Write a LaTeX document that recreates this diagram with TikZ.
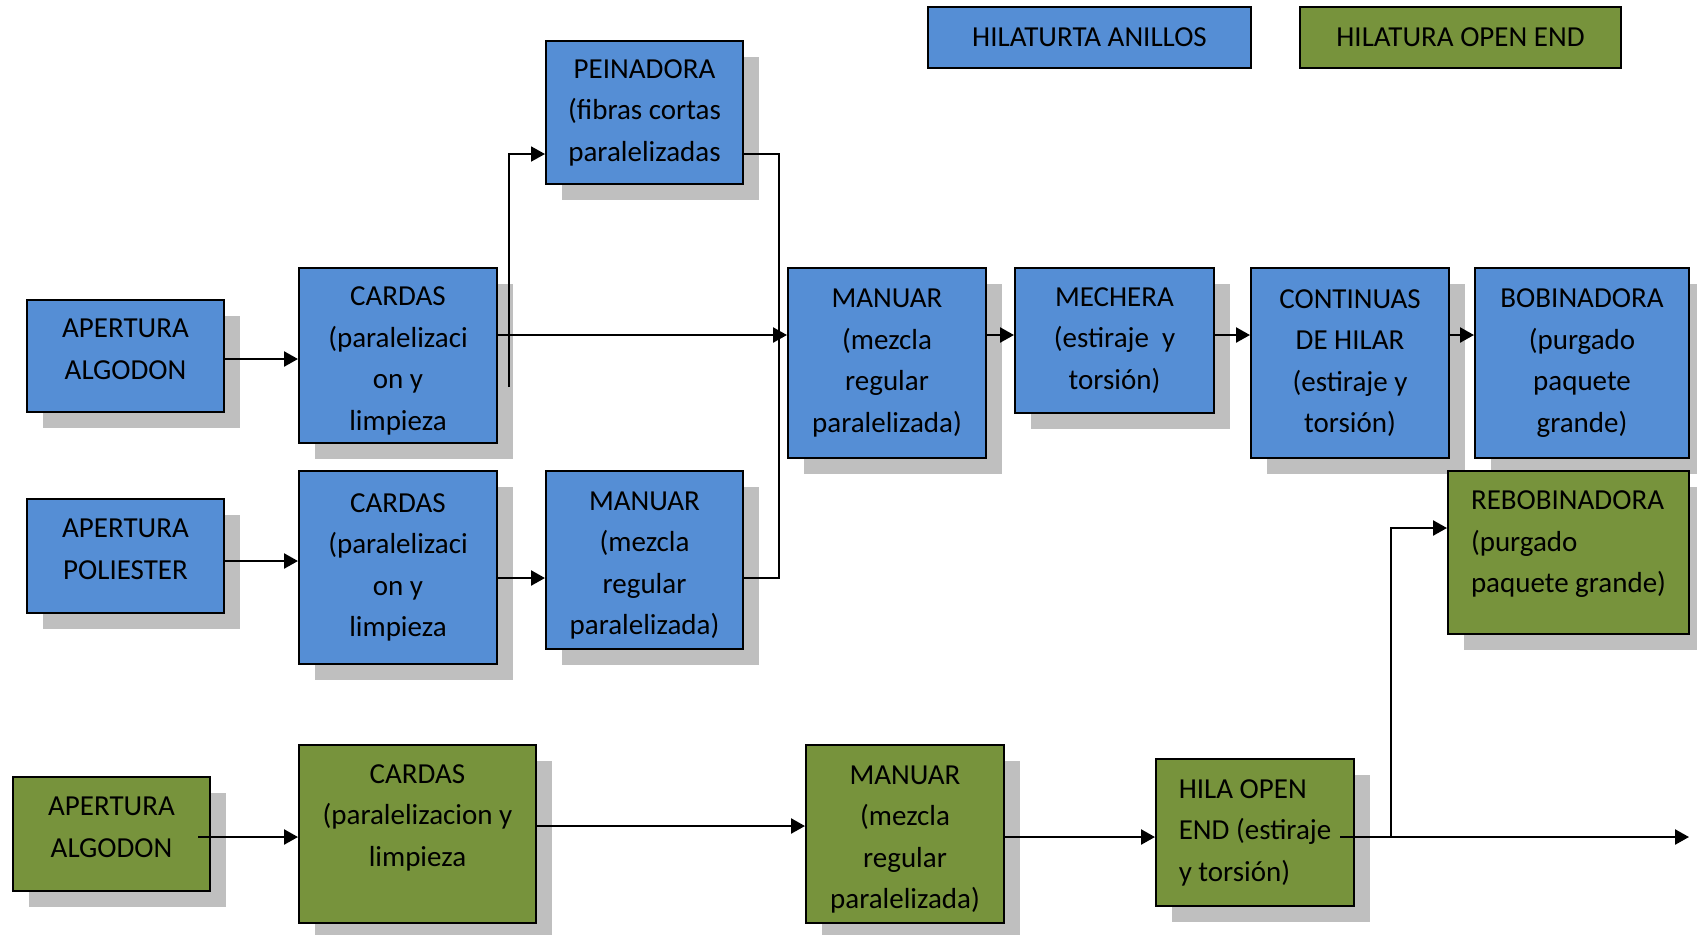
\documentclass[tikz,border=0pt]{standalone}
\usepackage{fontspec}
\setmainfont{Carlito}
\usetikzlibrary{arrows.meta,shadows,calc}
\definecolor{bfill}{RGB}{85,142,213}
\definecolor{gfill}{RGB}{119,147,60}
\definecolor{shgray}{RGB}{191,191,191}
\begin{document}
\begin{tikzpicture}[x=0.5pt,y=-0.5pt,
  every node/.style={font=\fontsize{14.5}{20.75}\selectfont},
  sz/.style 2 args={minimum width=#1*0.5pt, minimum height=#2*0.5pt},
  boxbase/.style={draw=black,line width=1pt,inner sep=0pt,align=center},
  shad/.style={general shadow={fill=shgray,shadow xshift=8pt,shadow yshift=-8pt}},
  bbox/.style={boxbase,shad,fill=bfill},
  gbox/.style={boxbase,shad,fill=gfill},
  arr/.style={line width=1.2pt,-{Triangle[length=7pt,width=7.5pt]}},
  ln/.style={line width=0.9pt},
  lnarr/.style={line width=0.9pt,-{Triangle[length=7pt,width=7.5pt]}}]
\useasboundingbox (0,0) rectangle (1697,934);

% legend
\node[boxbase,fill=bfill,sz={323}{61}] (lg1) at (1089.5,37.5) {HILATURTA ANILLOS};
\node[boxbase,fill=gfill,sz={321}{61}] (lg2) at (1460.5,37.5) {HILATURA OPEN END};

% blue
\node[bbox,sz={197}{143}] (pe) at (644.5,112.5) {PEINADORA\\(fibras cortas\\paralelizadas};
\node[bbox,sz={197}{112}] (aa1) at (125.5,356) {APERTURA\\ALGODON\\[-14pt]\mbox{}};
\node[bbox,sz={198}{175}] (ca1) at (398,355.5) {\mbox{}\\[-5.8pt]CARDAS\\(paralelizaci\\on y\\limpieza};
\node[bbox,sz={198}{190}] (ma1) at (887,363) {MANUAR\\(mezcla\\regular\\paralelizada)};
\node[bbox,sz={199}{145}] (me) at (1114.5,340.5) {MECHERA\\(estiraje\ \ y\\torsión)};
\node[bbox,sz={198}{190}] (co) at (1350,363) {CONTINUAS\\DE HILAR\\(estiraje y\\torsión)};
\node[bbox,sz={214}{190}] (bo) at (1582,363) {BOBINADORA\\(purgado\\paquete\\grande)};
\node[bbox,sz={197}{114}] (ap) at (125.5,556) {APERTURA\\POLIESTER\\[-14pt]\mbox{}};
\node[bbox,sz={198}{193}] (ca2) at (398,567.5) {CARDAS\\(paralelizaci\\on y\\limpieza};
\node[bbox,sz={197}{178}] (ma2) at (644.5,560) {\mbox{}\\[-5.8pt]MANUAR\\(mezcla\\regular\\paralelizada)};

% green
\node[gbox,sz={241}{163}] (re) at (1568.5,552.5) [align=left] {REBOBINADORA\\(purgado\\paquete grande)\\[-10pt]\mbox{}};
\node[gbox,sz={197}{114}] (aa3) at (111.5,834) {APERTURA\\ALGODON\\[-14pt]\mbox{}};
\node[gbox,sz={237}{178}] (ca3) at (417.5,834) {CARDAS\\(paralelizacion y\\limpieza\\[-2pt]\mbox{}};
\node[gbox,sz={198}{178}] (ma3) at (905,834) {\mbox{}\\[-5.8pt]MANUAR\\(mezcla\\regular\\paralelizada)};
\node[gbox,sz={198}{147}] (ho) at (1255,832.5) [align=left] {HILA OPEN\\END (estiraje\\y torsión)};

% helper coordinates
\coordinate (rA) at (0,335);
\coordinate (rB) at (0,154);
\coordinate (rC) at (0,578);
\coordinate (rD) at (0,561);
\coordinate (rE) at (0,837);
\coordinate (rF) at (0,826);
\coordinate (rG) at (0,528);
\coordinate (rH) at (0,359);
\coordinate (s1) at (509,387);
\coordinate (m1) at (779,578);
\coordinate (g0) at (198,837);
\coordinate (g1) at (1340,837);
\coordinate (br) at (1391,837);
\coordinate (gend) at (1689,837);

% connectors
\draw[arr] (aa1.east |- rH) -- (ca1.west |- rH);
\draw[arr] (ca1.east |- rA) -- (ma1.west |- rA);
\draw[lnarr] (s1) |- (pe.west |- rB);
\draw[ln] (pe.east |- rB) -| (m1) -- (ma2.east |- m1);
\draw[arr] (ap.east |- rD) -- (ca2.west |- rD);
\draw[arr] (ca2.east |- rC) -- (ma2.west |- rC);
\draw[arr] (ma1.east |- rA) -- (me.west |- rA);
\draw[arr] (me.east |- rA) -- (co.west |- rA);
\draw[arr] (co.east |- rA) -- (bo.west |- rA);

\draw[arr] (g0) -- (ca3.west |- g0);
\draw[arr] (ca3.east |- rF) -- (ma3.west |- rF);
\draw[arr] (ma3.east |- rE) -- (ho.west |- rE);
\draw[arr] (g1) -- (gend);
\draw[arr] (br) |- (re.west |- rG);
\end{tikzpicture}
\end{document}
